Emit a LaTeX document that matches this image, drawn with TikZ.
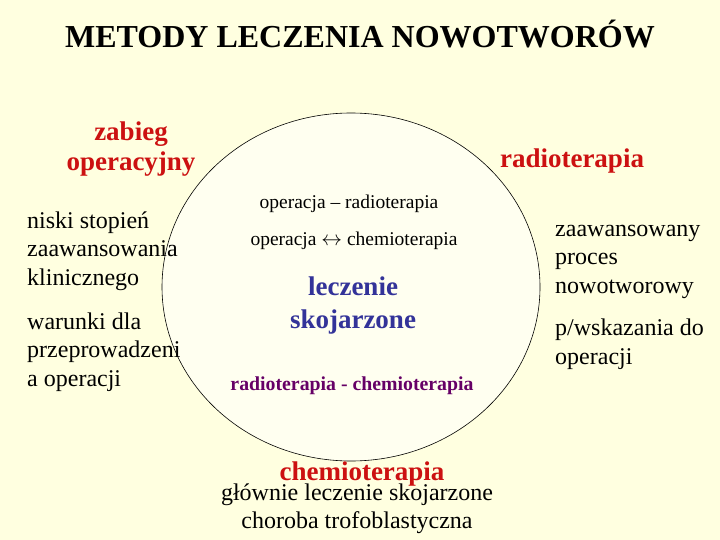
\documentclass[tikz,border=0pt]{standalone}
\usepackage{fontspec}
\setmainfont{Liberation Serif}
\usepackage{xcolor}
\usepackage{tikz}

\definecolor{bgcream}{RGB}{255,255,224}
\definecolor{incream}{RGB}{255,255,240}
\definecolor{headred}{RGB}{204,17,17}
\definecolor{mixblue}{RGB}{51,51,153}
\definecolor{mixpurple}{RGB}{102,0,102}

\tikzset{
  method/.style={font=\fontsize{27}{30}\selectfont\bfseries, text=headred, inner sep=0pt, align=center},
  note/.style={font=\fontsize{24}{28.5}\selectfont, align=left, inner sep=0pt, anchor=base west},
  combo/.style={font=\fontsize{19.5}{22}\selectfont, inner sep=0pt, anchor=base},
}

\begin{document}
\begin{tikzpicture}[x=1pt,y=-1pt]
\fill[bgcream] (0,0) rectangle (720,540);
\useasboundingbox (0,0) rectangle (720,540);
\draw[fill=incream, line width=0.6pt] (351,287) ellipse [x radius=189, y radius=174];

\node[font=\fontsize{32}{40}\selectfont\bfseries, inner sep=0pt, anchor=base] (title) at (360,48) {METODY LECZENIA NOWOTWORÓW};

% metody (base = last line)
\node[method, anchor=base] (zabieg) at (131,171) {zabieg\\operacyjny};
\node[method, anchor=base] (radio) at (572,168) {radioterapia};
\node[method, anchor=base] (chemio) at (362,480) {chemioterapia};

% wskazania
\node[note] (zabiegA) at (27,285) {niski stopień\\zaawansowania\\klinicznego};
\node[note] (zabiegB) at (27,386) {warunki dla\\przeprowadzeni\\a operacji};
\node[note] (radioA) at (555,293) {zaawansowany\\proces\\nowotworowy};
\node[note] (radioB) at (555,364) {p/wskazania do\\operacji};
\node[note, anchor=base, align=center, font=\fontsize{24}{28}\selectfont] (chemioA) at (357,528) {głównie leczenie skojarzone\\choroba trofoblastyczna};

% leczenie skojarzone
\node[combo] (opradio) at (349,209) {operacja – radioterapia};
\node[combo] (opchemio) at (354,245) {operacja $\leftrightarrow$ chemioterapia};
\node[method, text=mixblue, anchor=base, font=\fontsize{27}{33}\selectfont\bfseries] (skoj) at (353,328) {leczenie\\skojarzone};
\node[combo, font=\fontsize{19.8}{22}\selectfont\bfseries, text=mixpurple] (radiochemio) at (352,390) {radioterapia - chemioterapia};
\end{tikzpicture}
\end{document}
